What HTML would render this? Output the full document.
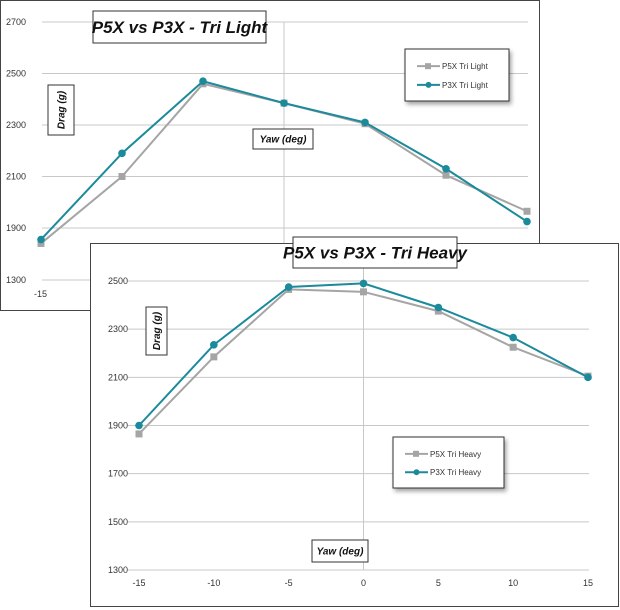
<!DOCTYPE html>
<html><head><meta charset="utf-8"><style>
html,body{margin:0;padding:0;background:#fff;}
svg{display:block;font-family:"Liberation Sans",sans-serif;}
.tick{font-size:9px;fill:#333;}
.ttl{font-family:"Liberation Sans Narrow","Liberation Sans",sans-serif;font-style:italic;font-weight:bold;}
.leg{font-size:8px;fill:#333;}
</style></head><body>
<svg id="chart" width="620" height="610" viewBox="0 0 620 610" xmlns="http://www.w3.org/2000/svg">
<defs><filter id="sh" x="-20%" y="-20%" width="150%" height="160%"><feDropShadow dx="2" dy="3" stdDeviation="2" flood-color="#000" flood-opacity="0.35"/></filter></defs>
<g id="top"></g>
<g id="bot"></g>
</svg>
<script>
const yawCats = [-15, -10, -5, 0, 5, 10, 15];
const lightP5X = [1840, 2100, 2460, 2385, 2305, 2105, 1965];
const lightP3X = [1855, 2190, 2470, 2385, 2310, 2130, 1925];
const lightTicks = [1900, 2100, 2300, 2500, 2700];
const heavyP5X = [1865, 2185, 2465, 2455, 2375, 2225, 2105];
const heavyP3X = [1900, 2235, 2475, 2490, 2390, 2265, 2100];
const heavyTicks = [1300, 1500, 1700, 1900, 2100, 2300, 2500];
const GRAY = '#a5a5a5', TEAL = '#1b8a9b';
const NS = 'http://www.w3.org/2000/svg';
function mk(parent, tag, attrs, text) {
  const e = document.createElementNS(NS, tag);
  for (const k in attrs) e.setAttribute(k, attrs[k]);
  if (text !== undefined) e.textContent = text;
  parent.appendChild(e);
  return e;
}
function boxLabel(g, x, y, w, h, txt, fs, name, rot) {
  const gg = mk(g, 'g', {});
  
  
  mk(gg, 'rect', {x: x, y: y, width: w, height: h, fill: '#fff', stroke: '#333', 'stroke-width': 1});
  const cx = x + w / 2, cy = y + h / 2;
  const t = mk(gg, 'text', {x: cx, y: cy + fs * 0.35, 'text-anchor': 'middle', 'font-size': fs, class: 'ttl', fill: '#111'}, txt);
  if (rot) t.setAttribute('transform', 'rotate(-90 ' + cx + ' ' + cy + ')');
}
function series(g, vals, xf, yf, color, marker, name) {
  const sg = mk(g, 'g', {});
  
  
  const pts = vals.map((v, i) => xf(yawCats[i]) + ',' + yf(v)).join(' ');
  mk(sg, 'polyline', {points: pts, fill: 'none', stroke: color, 'stroke-width': 2});
  vals.forEach((v, i) => {
    const x = xf(yawCats[i]), y = yf(v);
    let m;
    if (marker === 'sq') m = mk(sg, 'rect', {x: x - 3.5, y: y - 3.5, width: 7, height: 7, fill: color});
    else m = mk(sg, 'circle', {cx: x, cy: y, r: 3.8, fill: color});
    
    
  });
}
function legend(g, x, y, w, h, l1, l2, name) {
  const lg = mk(g, 'g', {filter: 'url(#sh)'});
  
  
  mk(lg, 'rect', {x: x, y: y, width: w, height: h, fill: '#fff', stroke: '#333', 'stroke-width': 1});
  const rows = [[l1, GRAY, 'sq'], [l2, TEAL, 'c']];
  rows.forEach((r, i) => {
    const yy = y + h * (0.33 + 0.36 * i);
    mk(lg, 'line', {x1: x + 12, x2: x + 35, y1: yy, y2: yy, stroke: r[1], 'stroke-width': 2});
    if (r[2] === 'sq') mk(lg, 'rect', {x: x + 20, y: yy - 3, width: 6, height: 6, fill: r[1]});
    else mk(lg, 'circle', {cx: x + 23.5, cy: yy, r: 3, fill: r[1]});
    const t = mk(lg, 'text', {x: x + 37, y: yy + 3, class: 'leg'}, r[0]);
    
    
  });
}
// ---- Top chart (Tri Light) ----
(function () {
  const g = document.getElementById('top');
  mk(g, 'rect', {x: 0.5, y: 0.5, width: 539, height: 310, fill: '#fff', stroke: '#444', 'stroke-width': 1});
  const xf = v => 41 + (v + 15) * (527 - 41) / 30;
  const yf = v => 228 - (v - 1900) * (228 - 22) / 800;
  lightTicks.forEach(t => {
    mk(g, 'line', {x1: 42, x2: 528, y1: yf(t), y2: yf(t), stroke: '#c8c8c8', 'stroke-width': 1});
    const l = mk(g, 'text', {x: 6, y: yf(t) + 3, class: 'tick'}, t);
    
    
  });
  mk(g, 'line', {x1: 42, x2: 528, y1: 280, y2: 280, stroke: '#c8c8c8', 'stroke-width': 1});
  mk(g, 'text', {x: 6, y: 283, class: 'tick'}, '1300');
  mk(g, 'text', {x: 34, y: 297, class: 'tick'}, '-15');
  mk(g, 'line', {x1: xf(0), x2: xf(0), y1: 22, y2: 310, stroke: '#c8c8c8', 'stroke-width': 1});
  series(g, lightP5X, xf, yf, GRAY, 'sq', 'p5x-tri-light-series');
  series(g, lightP3X, xf, yf, TEAL, 'c', 'p3x-tri-light-series');
  boxLabel(g, 93, 11, 173, 32, 'P5X vs P3X - Tri Light', 17, 'chart-title', false);
  boxLabel(g, 48, 85, 26, 50, 'Drag (g)', 10, 'y-axis-title', true);
  boxLabel(g, 253, 129, 60, 20, 'Yaw (deg)', 10, 'x-axis-title', false);
  legend(g, 405, 49, 104, 52, 'P5X Tri Light', 'P3X Tri Light', 'legend');
})();
// ---- Bottom chart (Tri Heavy) ----
(function () {
  const g = document.getElementById('bot');
  mk(g, 'rect', {x: 90.5, y: 243.5, width: 528, height: 363, fill: '#fff', stroke: '#444', 'stroke-width': 1});
  const xf = v => 139 + (v + 15) * (588 - 139) / 30;
  const yf = v => 570 - (v - 1300) * (570 - 281) / 1200;
  heavyTicks.forEach(t => {
    mk(g, 'line', {x1: 128, x2: 589, y1: yf(t), y2: yf(t), stroke: '#c8c8c8', 'stroke-width': 1});
    const l = mk(g, 'text', {x: 128, y: yf(t) + 3, 'text-anchor': 'end', class: 'tick'}, t);
    
    
  });
  yawCats.forEach(c => {
    const l = mk(g, 'text', {x: xf(c), y: 586, 'text-anchor': 'middle', class: 'tick'}, c);
    
    
  });
  mk(g, 'line', {x1: xf(0), x2: xf(0), y1: 268, y2: 570, stroke: '#c8c8c8', 'stroke-width': 1});
  series(g, heavyP5X, xf, yf, GRAY, 'sq', 'p5x-tri-heavy-series');
  series(g, heavyP3X, xf, yf, TEAL, 'c', 'p3x-tri-heavy-series');
  boxLabel(g, 293, 237, 164, 31, 'P5X vs P3X - Tri Heavy', 17, 'chart-title', false);
  boxLabel(g, 146, 307, 21, 48, 'Drag (g)', 10, 'y-axis-title', true);
  boxLabel(g, 312, 540, 56, 22, 'Yaw (deg)', 10, 'x-axis-title', false);
  legend(g, 393, 437, 111, 51, 'P5X Tri Heavy', 'P3X Tri Heavy', 'legend');
})();
</script>
</body></html>
